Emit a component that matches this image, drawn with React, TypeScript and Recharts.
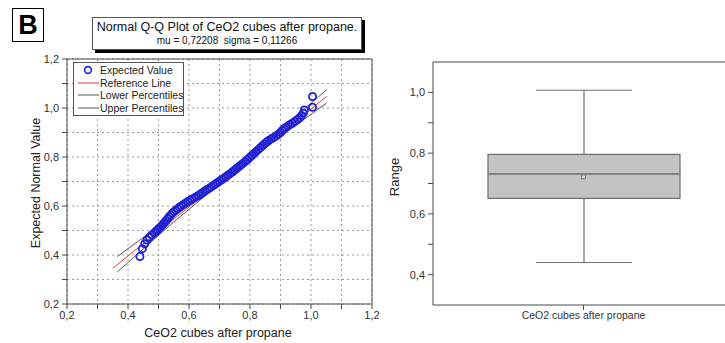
import {
  ScatterChart,
  Scatter,
  ComposedChart,
  Bar,
  Line,
  XAxis,
  YAxis,
  CartesianGrid,
  ReferenceLine,
} from "recharts"

const FONT = "'Liberation Sans', Arial, sans-serif"

// Normal Q-Q plot: sorted observed values against expected normal values
const qqObserved = [
  0.439, 0.447, 0.455, 0.462, 0.47, 0.478, 0.486, 0.492, 0.497, 0.502,
  0.507, 0.512, 0.516, 0.52, 0.525, 0.53, 0.535, 0.54, 0.545, 0.551,
  0.557, 0.563, 0.569, 0.575, 0.582, 0.589, 0.596, 0.603, 0.61, 0.617,
  0.624, 0.631, 0.638, 0.645, 0.652, 0.659, 0.666, 0.673, 0.68, 0.687,
  0.694, 0.701, 0.708, 0.715, 0.722, 0.729, 0.736, 0.743, 0.75, 0.757,
  0.764, 0.771, 0.778, 0.785, 0.792, 0.799, 0.806, 0.813, 0.82, 0.827,
  0.834, 0.841, 0.848, 0.855, 0.862, 0.87, 0.878, 0.886, 0.893, 0.9,
  0.906, 0.912, 0.918, 0.925, 0.932, 0.94, 0.948, 0.956, 0.963, 0.969,
  0.975, 0.978, 1.005, 1.005,
]
const qqExpected = [
  0.394, 0.426, 0.446, 0.461, 0.472, 0.482, 0.49, 0.497, 0.503, 0.509,
  0.515, 0.521, 0.527, 0.533, 0.54, 0.548, 0.556, 0.563, 0.57, 0.577,
  0.583, 0.589, 0.595, 0.6, 0.606, 0.612, 0.618, 0.623, 0.628, 0.633,
  0.638, 0.643, 0.649, 0.655, 0.661, 0.667, 0.672, 0.678, 0.684, 0.69,
  0.696, 0.702, 0.708, 0.714, 0.72, 0.727, 0.733, 0.74, 0.747, 0.754,
  0.761, 0.768, 0.775, 0.782, 0.79, 0.798, 0.806, 0.814, 0.822, 0.83,
  0.838, 0.846, 0.854, 0.861, 0.868, 0.874, 0.88, 0.886, 0.893, 0.9,
  0.908, 0.915, 0.921, 0.927, 0.933, 0.939, 0.946, 0.953, 0.96, 0.969,
  0.979, 0.992, 1.003, 1.047,
]

// reference line and percentile bands
const refX = [0.35, 1.051]
const refY = [0.346, 1.047]
const lowerX = [0.365, 0.55, 0.72, 0.9, 1.051]
const lowerY = [0.331, 0.535, 0.71, 0.885, 1.02]
const upperX = [0.365, 0.55, 0.72, 0.9, 1.051]
const upperY = [0.394, 0.562, 0.73, 0.912, 1.074]

const qqTicks = [0.2, 0.3, 0.4, 0.5, 0.6, 0.7, 0.8, 0.9, 1.0, 1.1, 1.2]

// box plot summary
const boxNames = ["CeO2 cubes after propane"]
const boxMin = [0.44]
const boxQ1 = [0.651]
const boxMedian = [0.732]
const boxQ3 = [0.796]
const boxMax = [1.007]
const boxMean = [0.72208]
const rangeTicks = [0.4, 0.5, 0.6, 0.7, 0.8, 0.9, 1.0]

const qqPoints = qqObserved.map((x, i) => ({ x, y: qqExpected[i] }))
const refPoints = refX.map((x, i) => ({ x, y: refY[i] }))
const lowerPoints = lowerX.map((x, i) => ({ x, y: lowerY[i] }))
const upperPoints = upperX.map((x, i) => ({ x, y: upperY[i] }))

const boxData = boxNames.map((name, i) => ({
  name,
  base: boxMin[i],
  lowWhisker: boxQ1[i] - boxMin[i],
  lowBox: boxMedian[i] - boxQ1[i],
  highBox: boxQ3[i] - boxMedian[i],
  highWhisker: boxMax[i] - boxQ3[i],
  mean: boxMean[i],
}))

const comma = (v: number) => v.toFixed(1).replace(".", ",")
const evenTick = (v: number) => (Math.round(v * 10) % 2 === 0 ? comma(v) : "")

const AXIS = "#4a4a4a"
const BOX_STROKE = "#6e6e6e"
const tickStyle = { fill: "#333", fontSize: 11, fontFamily: FONT }

const noDot = () => <g />

const WhiskerLow = (p: any) => {
  const cx = p.x + p.width / 2
  const bottom = p.y + p.height
  return (
    <g stroke={BOX_STROKE} strokeWidth={1.2}>
      <line x1={cx} y1={p.y} x2={cx} y2={bottom} />
      <line x1={cx - p.width / 4} y1={bottom} x2={cx + p.width / 4} y2={bottom} />
    </g>
  )
}

const WhiskerHigh = (p: any) => {
  const cx = p.x + p.width / 2
  return (
    <g stroke={BOX_STROKE} strokeWidth={1.2}>
      <line x1={cx} y1={p.y} x2={cx} y2={p.y + p.height} />
      <line x1={cx - p.width / 4} y1={p.y} x2={cx + p.width / 4} y2={p.y} />
    </g>
  )
}

const MeanDot = (p: any) => (
  <rect x={p.cx - 2} y={p.cy - 2} width={4} height={4} fill="#d8d8d8" stroke="#7a7a7a" strokeWidth={1} />
)

function LegendRow({ kind, color, text }: { kind: "dot" | "line"; color: string; text: string }) {
  return (
    <div style={{ display: "flex", alignItems: "center", height: 12.5, whiteSpace: "nowrap" }}>
      <svg width={26} height={12} style={{ flex: "none" }}>
        {kind === "dot" ? (
          <circle cx={14} cy={6} r={3.4} fill="none" stroke={color} strokeWidth={1.6} />
        ) : (
          <line x1={4} y1={6} x2={25} y2={6} stroke={color} strokeWidth={1} />
        )}
      </svg>
      <span>{text}</span>
    </div>
  )
}

export default function App() {
  return (
    <div
      style={{
        position: "absolute",
        left: 0,
        top: 0,
        width: 725,
        height: 343,
        overflow: "hidden",
        background: "#fff",
        fontFamily: FONT,
      }}
    >
      {/* panel letter */}
      <div
        style={{
          position: "absolute",
          left: 12,
          top: 8,
          width: 30,
          height: 32,
          border: "1.5px solid #000",
          fontSize: 27,
          fontWeight: "bold",
          lineHeight: "32px",
          textAlign: "center",
        }}
      >
        B
      </div>

      {/* Q-Q plot */}
      <div style={{ position: "absolute", left: 0, top: 0 }}>
        <ScatterChart width={380} height={343} margin={{ top: 59, right: 8, bottom: 17, left: 17 }}>
          <CartesianGrid
            stroke="#9a9a9a"
            strokeWidth={1}
            strokeDasharray="2 3"
            horizontal
            vertical
          />
          <XAxis
            type="number"
            dataKey="x"
            domain={[0.2, 1.2]}
            ticks={qqTicks}
            tickFormatter={evenTick}
            height={22}
            stroke={AXIS}
            tickSize={5}
            tick={tickStyle}
            interval={0}
          />
          <YAxis
            type="number"
            dataKey="y"
            domain={[0.2, 1.2]}
            ticks={qqTicks}
            tickFormatter={evenTick}
            width={50}
            stroke={AXIS}
            tickSize={5}
            tickMargin={3}
            tick={tickStyle}
            interval={0}
          />
          <ReferenceLine y={1.2} stroke={AXIS} />
          <ReferenceLine x={1.2} stroke={AXIS} />
          <Scatter
            data={lowerPoints}
            line={{ stroke: "#555", strokeWidth: 1 }}
            shape={noDot}
            isAnimationActive={false}
          />
          <Scatter
            data={upperPoints}
            line={{ stroke: "#555", strokeWidth: 1 }}
            shape={noDot}
            isAnimationActive={false}
          />
          <Scatter
            data={refPoints}
            line={{ stroke: "#e03a3a", strokeWidth: 1 }}
            shape={noDot}
            isAnimationActive={false}
          />
          <Scatter
            data={qqPoints}
            shape={(p: any) => (
              <circle cx={p.cx} cy={p.cy} r={3.6} fill="none" stroke="#2020d4" strokeWidth={1.8} />
            )}
            isAnimationActive={false}
          />
        </ScatterChart>
      </div>

      {/* legend of the Q-Q plot */}
      <div
        style={{
          position: "absolute",
          left: 73,
          top: 62,
          width: 109,
          height: 51,
          border: "1px solid #555",
          background: "#fff",
          fontSize: 10.5,
          color: "#222",
          paddingTop: 1,
        }}
      >
        <LegendRow kind="dot" color="#2020d4" text="Expected Value" />
        <LegendRow kind="line" color="#e03a3a" text="Reference Line" />
        <LegendRow kind="line" color="#555" text="Lower Percentiles" />
        <LegendRow kind="line" color="#555" text="Upper Percentiles" />
      </div>

      {/* title box */}
      <div
        style={{
          position: "absolute",
          left: 92,
          top: 17,
          width: 268,
          height: 31,
          border: "1px solid #555",
          background: "#fff",
          boxShadow: "3px 3px 0 #000",
          textAlign: "center",
          color: "#111",
          whiteSpace: "nowrap",
        }}
      >
        <div style={{ fontSize: 12.5, lineHeight: "16px", marginTop: 1 }}>
          Normal Q-Q Plot of CeO2 cubes after propane.
        </div>
        <div style={{ fontSize: 10, lineHeight: "12px" }}>mu = 0,72208&nbsp;&nbsp;sigma = 0,11266</div>
      </div>

      {/* Q-Q axis titles */}
      <div
        style={{
          position: "absolute",
          left: 218,
          top: 333,
          transform: "translate(-50%, -50%)",
          whiteSpace: "nowrap",
          fontSize: 12.5,
          color: "#222",
        }}
      >
        CeO2 cubes after propane
      </div>
      <div
        style={{
          position: "absolute",
          left: 36,
          top: 183,
          transform: "translate(-50%, -50%) rotate(-90deg)",
          whiteSpace: "nowrap",
          fontSize: 12.5,
          color: "#222",
        }}
      >
        Expected Normal Value
      </div>

      {/* box plot */}
      <div style={{ position: "absolute", left: 380, top: 0 }}>
        <ComposedChart
          width={354}
          height={343}
          data={boxData}
          margin={{ top: 62, right: 0, bottom: 18, left: 13 }}
        >
          <XAxis
            dataKey="name"
            height={20}
            stroke={AXIS}
            tickSize={5}
            tick={{ ...tickStyle, fontSize: 10.5 }}
          />
          <YAxis
            type="number"
            domain={[0.3, 1.1]}
            allowDataOverflow
            ticks={rangeTicks}
            tickFormatter={evenTick}
            width={40}
            stroke={AXIS}
            tickSize={5}
            tickMargin={3}
            tick={tickStyle}
            interval={0}
          />
          <ReferenceLine y={1.1} stroke={AXIS} />
          <Bar dataKey="base" stackId="box" barSize={192} fill="none" isAnimationActive={false} />
          <Bar dataKey="lowWhisker" stackId="box" barSize={192} shape={WhiskerLow} isAnimationActive={false} />
          <Bar
            dataKey="lowBox"
            stackId="box"
            barSize={192}
            fill="#c3c3c3"
            stroke={BOX_STROKE}
            strokeWidth={1.2}
            isAnimationActive={false}
          />
          <Bar
            dataKey="highBox"
            stackId="box"
            barSize={192}
            fill="#c3c3c3"
            stroke={BOX_STROKE}
            strokeWidth={1.2}
            isAnimationActive={false}
          />
          <Bar dataKey="highWhisker" stackId="box" barSize={192} shape={WhiskerHigh} isAnimationActive={false} />
          <Line dataKey="mean" stroke="none" dot={MeanDot} activeDot={false} isAnimationActive={false} />
        </ComposedChart>
      </div>
      <div
        style={{
          position: "absolute",
          left: 394,
          top: 177,
          transform: "translate(-50%, -50%) rotate(-90deg)",
          fontSize: 13,
          color: "#222",
        }}
      >
        Range
      </div>
    </div>
  )
}
